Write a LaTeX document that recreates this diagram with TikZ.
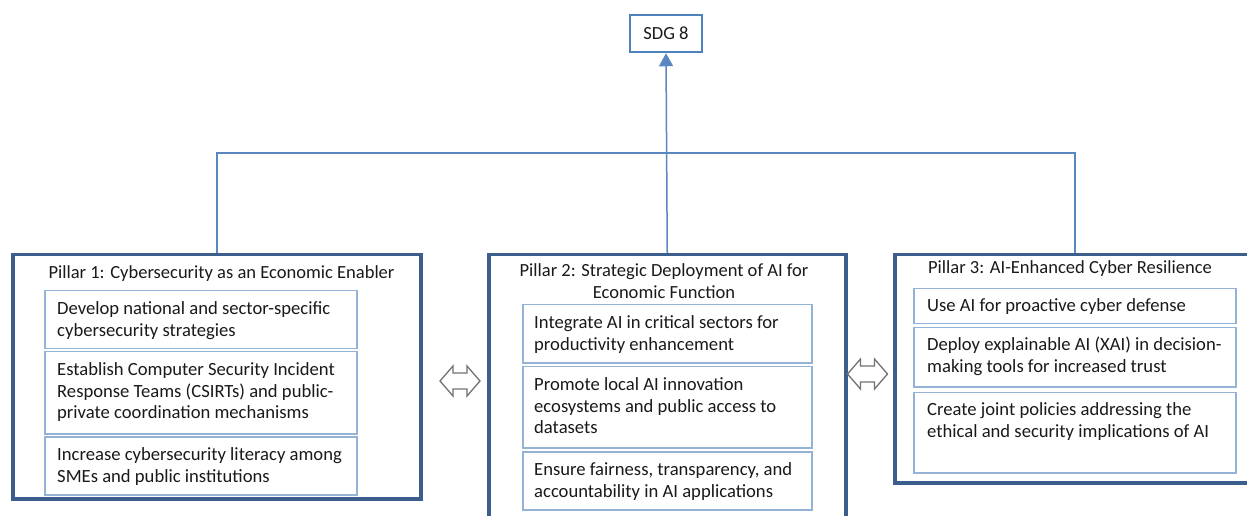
\documentclass[tikz,border=0pt]{standalone}
\usepackage{fontspec}
\setmainfont{Carlito}
\usetikzlibrary{arrows.meta}
\definecolor{darkb}{HTML}{3B5E8C}
\definecolor{lightb}{HTML}{95B3D7}
\definecolor{conncol}{HTML}{5A87C2}
\definecolor{sdgb}{HTML}{4F81BD}
\definecolor{txt}{HTML}{1A1A1A}
\begin{document}
\begin{tikzpicture}[x=1bp,y=-1bp,
 pillar/.style={draw=darkb,line width=3.5bp,inner sep=0pt,anchor=north west},
 ibox/.style={draw=lightb,line width=1.5bp,inner sep=0pt,anchor=north west},
 itext/.style={inner sep=0pt,anchor=north west,align=left,font=\fontsize{18.7}{22}\selectfont,text=txt},
 ttext/.style={inner sep=0pt,anchor=north,align=center,font=\fontsize{18.6}{22}\selectfont,text=txt},
 connline/.style={draw=conncol,line width=1.5bp},
 dbl/.style={draw=gray!90!black,line width=1.3bp,fill=white,line join=miter}]
\useasboundingbox[fill=white] (0,0) rectangle (1247,516);

% SDG box
\node[draw=sdgb,line width=2.5bp,minimum width=72bp,minimum height=37bp,inner sep=0pt,
      font=\fontsize{18.6}{22}\selectfont,text=txt] (sdg) at (666,33.5) {SDG 8};

% Pillar frames
\node[pillar,minimum width=408bp,minimum height=244bp] (p1) at (11,253) {};
\node[pillar,minimum width=357bp,minimum height=280bp] (p2) at (487,253) {};
\node[pillar,minimum width=360bp,minimum height=228bp] (p3) at (893,253) {};

% Titles
\node[ttext] (t1) at (221.5,262.6) {\strut Pillar 1: Cybersecurity as an Economic Enabler};
\node[ttext] (t2) at (664,260.6) {\strut Pillar 2: Strategic Deployment of AI for\\Economic Function};
\node[ttext] (t3) at (1070,257.6) {\strut Pillar 3: AI-Enhanced Cyber Resilience};

% Pillar 1 items
\node[ibox,minimum width=312bp,minimum height=58bp] (b11) at (44,290) {};
\node[ibox,minimum width=312bp,minimum height=82bp] (b12) at (44,351) {};
\node[ibox,minimum width=312bp,minimum height=58bp] (b13) at (44,436) {};
\node[itext] (x11) at ([shift={(13,8.6)}]b11.north west) {\strut Develop national and sector-specific\\cybersecurity strategies};
\node[itext] (x12) at ([shift={(13,8.6)}]b12.north west) {\strut Establish Computer Security Incident\\Response Teams (CSIRTs) and public-\\private coordination mechanisms};
\node[itext] (x13) at ([shift={(13,8.6)}]b13.north west) {\strut Increase cybersecurity literacy among\\SMEs and public institutions};

% Pillar 2 items
\node[ibox,minimum width=289bp,minimum height=58bp] (b21) at (522,304) {};
\node[ibox,minimum width=289bp,minimum height=81bp] (b22) at (522,366) {};
\node[ibox,minimum width=289bp,minimum height=58bp] (b23) at (522,451) {};
\node[itext] (x21) at ([shift={(12,8.6)}]b21.north west) {\strut Integrate AI in critical sectors for\\productivity enhancement};
\node[itext] (x22) at ([shift={(12,8.6)}]b22.north west) {\strut Promote local AI innovation\\ecosystems and public access to\\datasets};
\node[itext] (x23) at ([shift={(12,8.6)}]b23.north west) {\strut Ensure fairness, transparency, and\\accountability in AI applications};

% Pillar 3 items
\node[ibox,minimum width=322bp,minimum height=35bp] (b31) at (913,288) {};
\node[ibox,minimum width=322bp,minimum height=59bp] (b32) at (913,327) {};
\node[ibox,minimum width=322bp,minimum height=80bp] (b33) at (913,392) {};
\node[itext] (x31) at ([shift={(14,7.6)}]b31.north west) {\strut Use AI for proactive cyber defense};
\node[itext] (x32) at ([shift={(14,7.6)}]b32.north west) {\strut Deploy explainable AI (XAI) in decision-\\making tools for increased trust};
\node[itext] (x33) at ([shift={(14,7.6)}]b33.north west) {\strut Create joint policies addressing the\\ethical and security implications of AI};

% Connectors
\coordinate (j) at (665,153);
\draw[connline,-{Triangle[width=14bp,length=13bp]}] (p2.north) -- (sdg.south);
\draw[connline] (p1.north) -- (p1.north |- j) -- (p3.north |- j) -- (p3.north);

% Double arrows
\coordinate (a1) at (460,381);
\coordinate (a2) at (867.5,374);
\foreach \a in {a1,a2}{
  \draw[dbl] ([shift={(-20,0)}]\a) -- ++(13,-15) -- ++(0,7) -- ++(14,0) -- ++(0,-7)
    -- ++(13,15) -- ++(-13,15) -- ++(0,-7) -- ++(-14,0) -- ++(0,7) -- cycle;
}
\end{tikzpicture}
\end{document}
